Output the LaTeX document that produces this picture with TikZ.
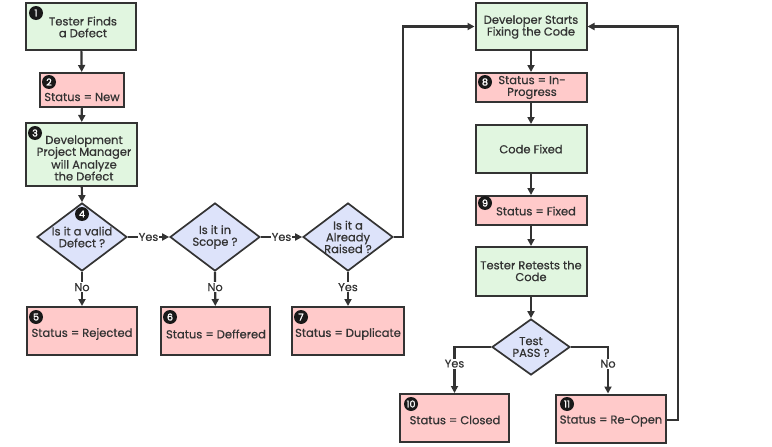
\documentclass[tikz,border=0pt]{standalone}
\usepackage{fontspec}
\setmainfont{Poppins}[FakeBold=0.6]
\newfontfamily\badgefont{Poppins}[FakeBold=2]
\usetikzlibrary{arrows.meta,shapes.geometric}
\definecolor{gfill}{HTML}{E1F6E0}
\definecolor{pfill}{HTML}{FFCACA}
\definecolor{bfill}{HTML}{DDE3FA}
\definecolor{edge}{HTML}{333333}
\tikzset{
  box/.style={draw=edge,line width=2pt,inner sep=0pt,minimum width=#1},
  gbox/.style={box=110pt,fill=gfill},
  pbox/.style={box=110pt,fill=pfill},
  dia/.style={diamond,draw=edge,line width=1.7pt,fill=bfill,inner sep=0pt,minimum width=90pt,minimum height=68pt},
  txt/.style={align=center,font=\fontsize{11.5}{11.8}\selectfont,text=black!80,inner sep=0pt},
  badge/.style={circle,fill=black!90,text=white,inner sep=0pt,minimum size=14pt,font=\fontsize{9.5}{10}\badgefont},
  arr/.style={draw=edge,line width=2.2pt,-{Triangle[length=7pt,width=7pt]}},
  lab/.style={fill=white,inner sep=1pt,font=\fontsize{11.3}{11}\selectfont,text=black!80}
}
\begin{document}
\begin{tikzpicture}[x=1pt,y=-1pt]
\useasboundingbox[fill=white] (0,0) rectangle (772,447);
% column 1
\node[gbox,minimum height=47pt] (b1) at (81,26.5) {};
\node[txt] (b1t) at (83,27) {Tester Finds\\a Defect};
\node[badge] (n1) at (36,13) {1};
\node[pbox,minimum width=84pt,minimum height=34pt] (s2) at (82,90) {};
\node[txt] (s2t) at (82,97) {Status = New};
\node[badge] (n2) at (49,82) {2};
\node[gbox,minimum width=111pt,minimum height=63pt] (b3) at (81.5,154.5) {};
\node[txt] (b3t) at (84,158) {Development\\Project Manager\\will Analyze\\the Defect};
\node[badge] (n3) at (35,133) {3};
% diamonds
\node[dia] (d1) at (82,237) {};
\node[txt] (d1t) at (82,237) {Is it a valid\\Defect ?};
\node[badge] (n4) at (82,214) {4};
\node[dia] (d2) at (215,237) {};
\node[txt] (d2t) at (215,237) {Is it in\\Scope ?};
\node[dia] (d3) at (348,237) {};
\node[txt] (d3t) at (348,237) {Is it a\\Already\\Raised ?};
% bottom status boxes
\node[pbox,minimum height=48pt] (s5) at (82,331) {};
\node[txt] (s5t) at (82,334) {Status = Rejected};
\node[badge] (n5) at (36,317) {5};
\node[pbox,minimum width=109pt,minimum height=48pt] (s6) at (215.5,331) {};
\node[txt] (s6t) at (216,334) {Status = Deffered};
\node[badge] (n6) at (170,317) {6};
\node[pbox,minimum width=112pt,minimum height=48pt] (s7) at (348,331) {};
\node[txt] (s7t) at (348,334) {Status = Duplicate};
\node[badge] (n7) at (301,317) {7};
% right column
\node[gbox,minimum width=111pt,minimum height=47pt] (dev) at (531,26.5) {};
\node[txt] (devt) at (531,27) {Developer Starts\\Fixing the Code};
\node[pbox,minimum width=111pt,minimum height=29pt] (s8) at (531,87.5) {};
\node[txt] (s8t) at (532,87.5) {Status = In-\\Progress};
\node[badge] (n8) at (485,82) {8};
\node[gbox,minimum width=111pt,minimum height=48pt] (cf) at (531,149) {};
\node[txt] (cft) at (531,149) {Code Fixed};
\node[pbox,minimum width=111pt,minimum height=29pt] (s9) at (531,210.5) {};
\node[txt] (s9t) at (536,211) {Status = Fixed};
\node[badge] (n9) at (485,203) {9};
\node[gbox,minimum width=111pt,minimum height=49pt] (tr) at (531,271.5) {};
\node[txt] (trt) at (531,271) {Tester Retests the\\Code};
\node[dia,minimum width=78pt,minimum height=56pt] (tp) at (531,347) {};
\node[txt] (tpt) at (531,347) {Test\\PASS ?};
\node[pbox,minimum width=109pt,minimum height=48pt] (s10) at (454.5,418) {};
\node[txt] (s10t) at (455,420) {Status = Closed};
\node[badge] (n10) at (411,404) {10};
\node[pbox,minimum width=110pt,minimum height=48pt] (s11) at (611,418.5) {};
\node[txt] (s11t) at (611,421) {Status = Re-Open};
\node[badge] (n11) at (567,404) {11};
% connectors
\draw[arr] (b1) -- (s2);
\draw[arr] (s2) -- (b3);
\draw[arr] (b3) -- (d1.north);
\draw[arr] (d1.east) -- node[lab]{Yes} (d2.west);
\draw[arr] (d2.east) -- node[lab]{Yes} (d3.west);
\draw[arr] (d1.south) -- node[lab,pos=0.45]{No} (s5);
\draw[arr] (d2.south) -- node[lab,pos=0.45]{No} (s6);
\draw[arr] (d3.south) -- node[lab,pos=0.45]{Yes} (s7);
\coordinate (c1) at (403,237);
\draw[arr] (d3.east) -- (c1) |- (dev.west);
\draw[arr] (dev) -- (s8);
\draw[arr] (s8) -- (cf);
\draw[arr] (cf) -- (s9);
\draw[arr] (s9) -- (tr);
\draw[arr] (tr) -- (tp.north);
\draw[arr] (tp.west) -| node[lab,pos=0.68]{Yes} (s10.north);
\draw[arr] (tp.east) -| node[lab,pos=0.68]{No} ([xshift=-3pt]s11.north);
\coordinate (c2) at (678,420);
\draw[arr] (s11.east |- c2) -- (c2) |- (dev.east);
\end{tikzpicture}
\end{document}
